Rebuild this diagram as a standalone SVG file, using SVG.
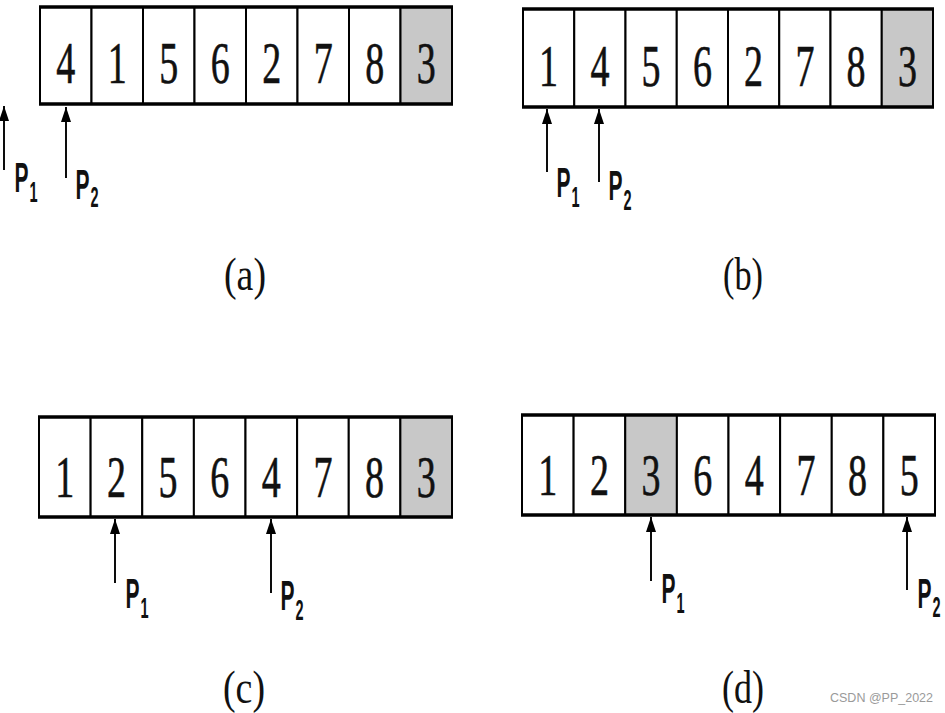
<svg xmlns="http://www.w3.org/2000/svg" width="945" height="713" viewBox="0 0 945 713">
<style>
.cell{fill:#fff;stroke:#000;stroke-width:2}
.grey{fill:#c8c8c8}
.edge{stroke:#000;stroke-width:3.5}
.num{font-family:"Liberation Serif",serif;font-size:60px;text-anchor:middle;fill:#111;stroke:#111;stroke-width:0.6}
.p{font-family:"Liberation Sans",sans-serif;font-size:42px;font-weight:bold;fill:#111}
.sub{font-size:29px}
.cap{font-family:"Liberation Serif",serif;font-size:46px;text-anchor:middle;fill:#111}
.arrow{stroke:#000;stroke-width:1.9;fill:none;marker-end:url(#ah)}
.wm{font-family:"Liberation Sans",Arial,sans-serif;font-size:12.5px;fill:#9a9a9a}
</style>
<defs>
<marker id="ah" markerUnits="userSpaceOnUse" markerWidth="16" markerHeight="11" refX="15" refY="5" orient="auto">
<path d="M0,0 L15,5 L0,10 Z" fill="#000"/>
</marker>
</defs>
<rect width="945" height="713" fill="#fff"/>

<!-- (a) -->
<g id="array-a">
<g id="a1"><rect class="cell" x="40" y="7" width="51.5" height="97"/><text class="num" x="65.75" y="83" textLength="19" lengthAdjust="spacingAndGlyphs">4</text></g>
<g id="a2"><rect class="cell" x="91.5" y="7" width="51.5" height="97"/><text class="num" x="117.25" y="83" textLength="19" lengthAdjust="spacingAndGlyphs">1</text></g>
<g id="a3"><rect class="cell" x="143" y="7" width="51.5" height="97"/><text class="num" x="168.75" y="83" textLength="19" lengthAdjust="spacingAndGlyphs">5</text></g>
<g id="a4"><rect class="cell" x="194.5" y="7" width="51.5" height="97"/><text class="num" x="220.25" y="83" textLength="19" lengthAdjust="spacingAndGlyphs">6</text></g>
<g id="a5"><rect class="cell" x="246" y="7" width="51.5" height="97"/><text class="num" x="271.75" y="83" textLength="19" lengthAdjust="spacingAndGlyphs">2</text></g>
<g id="a6"><rect class="cell" x="297.5" y="7" width="51.5" height="97"/><text class="num" x="323.25" y="83" textLength="19" lengthAdjust="spacingAndGlyphs">7</text></g>
<g id="a7"><rect class="cell" x="349" y="7" width="51.5" height="97"/><text class="num" x="374.75" y="83" textLength="19" lengthAdjust="spacingAndGlyphs">8</text></g>
<g id="a8"><rect class="cell grey" x="400.5" y="7" width="51.5" height="97"/><text class="num" x="426.25" y="83" textLength="19" lengthAdjust="spacingAndGlyphs">3</text></g>
<line class="edge" x1="39" y1="7" x2="453" y2="7"/><line class="edge" x1="39" y1="104" x2="453" y2="104"/>
</g>

<!-- (b) -->
<g id="array-b">
<g id="b1"><rect class="cell" x="523" y="9" width="51.25" height="98"/><text class="num" x="548.6" y="86" textLength="19" lengthAdjust="spacingAndGlyphs">1</text></g>
<g id="b2"><rect class="cell" x="574.25" y="9" width="51.25" height="98"/><text class="num" x="599.9" y="86" textLength="19" lengthAdjust="spacingAndGlyphs">4</text></g>
<g id="b3"><rect class="cell" x="625.5" y="9" width="51.25" height="98"/><text class="num" x="651.1" y="86" textLength="19" lengthAdjust="spacingAndGlyphs">5</text></g>
<g id="b4"><rect class="cell" x="676.75" y="9" width="51.25" height="98"/><text class="num" x="702.4" y="86" textLength="19" lengthAdjust="spacingAndGlyphs">6</text></g>
<g id="b5"><rect class="cell" x="728" y="9" width="51.25" height="98"/><text class="num" x="753.6" y="86" textLength="19" lengthAdjust="spacingAndGlyphs">2</text></g>
<g id="b6"><rect class="cell" x="779.25" y="9" width="51.25" height="98"/><text class="num" x="804.9" y="86" textLength="19" lengthAdjust="spacingAndGlyphs">7</text></g>
<g id="b7"><rect class="cell" x="830.5" y="9" width="51.25" height="98"/><text class="num" x="856.1" y="86" textLength="19" lengthAdjust="spacingAndGlyphs">8</text></g>
<g id="b8"><rect class="cell grey" x="881.75" y="9" width="51.25" height="98"/><text class="num" x="907.4" y="86" textLength="19" lengthAdjust="spacingAndGlyphs">3</text></g>
<line class="edge" x1="522" y1="9" x2="934" y2="9"/><line class="edge" x1="522" y1="107" x2="934" y2="107"/>
</g>

<!-- (c) -->
<g id="array-c">
<g id="c1"><rect class="cell" x="39" y="417" width="51.625" height="100"/><text class="num" x="64.8" y="497" textLength="19" lengthAdjust="spacingAndGlyphs">1</text></g>
<g id="c2"><rect class="cell" x="90.625" y="417" width="51.625" height="100"/><text class="num" x="116.4" y="497" textLength="19" lengthAdjust="spacingAndGlyphs">2</text></g>
<g id="c3"><rect class="cell" x="142.25" y="417" width="51.625" height="100"/><text class="num" x="168.1" y="497" textLength="19" lengthAdjust="spacingAndGlyphs">5</text></g>
<g id="c4"><rect class="cell" x="193.875" y="417" width="51.625" height="100"/><text class="num" x="219.7" y="497" textLength="19" lengthAdjust="spacingAndGlyphs">6</text></g>
<g id="c5"><rect class="cell" x="245.5" y="417" width="51.625" height="100"/><text class="num" x="271.3" y="497" textLength="19" lengthAdjust="spacingAndGlyphs">4</text></g>
<g id="c6"><rect class="cell" x="297.125" y="417" width="51.625" height="100"/><text class="num" x="322.9" y="497" textLength="19" lengthAdjust="spacingAndGlyphs">7</text></g>
<g id="c7"><rect class="cell" x="348.75" y="417" width="51.625" height="100"/><text class="num" x="374.6" y="497" textLength="19" lengthAdjust="spacingAndGlyphs">8</text></g>
<g id="c8"><rect class="cell grey" x="400.375" y="417" width="51.625" height="100"/><text class="num" x="426.2" y="497" textLength="19" lengthAdjust="spacingAndGlyphs">3</text></g>
<line class="edge" x1="38" y1="417" x2="453" y2="417"/><line class="edge" x1="38" y1="517" x2="453" y2="517"/>
</g>

<!-- (d) -->
<g id="array-d">
<g id="d1"><rect class="cell" x="522" y="415" width="51.625" height="100"/><text class="num" x="547.8" y="495" textLength="19" lengthAdjust="spacingAndGlyphs">1</text></g>
<g id="d2"><rect class="cell" x="573.625" y="415" width="51.625" height="100"/><text class="num" x="599.4" y="495" textLength="19" lengthAdjust="spacingAndGlyphs">2</text></g>
<g id="d3"><rect class="cell grey" x="625.25" y="415" width="51.625" height="100"/><text class="num" x="651.1" y="495" textLength="19" lengthAdjust="spacingAndGlyphs">3</text></g>
<g id="d4"><rect class="cell" x="676.875" y="415" width="51.625" height="100"/><text class="num" x="702.7" y="495" textLength="19" lengthAdjust="spacingAndGlyphs">6</text></g>
<g id="d5"><rect class="cell" x="728.5" y="415" width="51.625" height="100"/><text class="num" x="754.3" y="495" textLength="19" lengthAdjust="spacingAndGlyphs">4</text></g>
<g id="d6"><rect class="cell" x="780.125" y="415" width="51.625" height="100"/><text class="num" x="805.9" y="495" textLength="19" lengthAdjust="spacingAndGlyphs">7</text></g>
<g id="d7"><rect class="cell" x="831.75" y="415" width="51.625" height="100"/><text class="num" x="857.6" y="495" textLength="19" lengthAdjust="spacingAndGlyphs">8</text></g>
<g id="d8"><rect class="cell" x="883.375" y="415" width="51.625" height="100"/><text class="num" x="909.2" y="495" textLength="19" lengthAdjust="spacingAndGlyphs">5</text></g>
<line class="edge" x1="521" y1="415" x2="936" y2="415"/><line class="edge" x1="521" y1="515" x2="936" y2="515"/>
</g>

<!-- pointer arrows -->
<g id="connectors">
<line class="arrow" x1="4" y1="170" x2="4" y2="106"/>
<line class="arrow" x1="66" y1="178" x2="66" y2="107"/>
<line class="arrow" x1="547" y1="172" x2="547" y2="109"/>
<line class="arrow" x1="599" y1="182" x2="599" y2="109"/>
<line class="arrow" x1="115" y1="583" x2="115" y2="519"/>
<line class="arrow" x1="271" y1="593" x2="271" y2="519"/>
<line class="arrow" x1="651" y1="581" x2="651" y2="517"/>
<line class="arrow" x1="907" y1="590" x2="907" y2="517"/>
</g>

<!-- pointer labels -->
<g id="labels-a">
<text class="p" transform="translate(14.5,192) scale(0.5,1)">P<tspan class="sub" dx="2" dy="10">1</tspan></text>
<text class="p" transform="translate(75.5,199) scale(0.5,1)">P<tspan class="sub" dx="2" dy="8">2</tspan></text>
</g>
<g id="labels-b">
<text class="p" transform="translate(556.5,197) scale(0.5,1)">P<tspan class="sub" dx="2" dy="10">1</tspan></text>
<text class="p" transform="translate(608.5,200) scale(0.5,1)">P<tspan class="sub" dx="2" dy="10">2</tspan></text>
</g>
<g id="labels-c">
<text class="p" transform="translate(125.5,608) scale(0.5,1)">P<tspan class="sub" dx="2" dy="10">1</tspan></text>
<text class="p" transform="translate(280.5,610) scale(0.5,1)">P<tspan class="sub" dx="2" dy="10">2</tspan></text>
</g>
<g id="labels-d">
<text class="p" transform="translate(661.5,603) scale(0.5,1)">P<tspan class="sub" dx="2" dy="10">1</tspan></text>
<text class="p" transform="translate(917.5,608) scale(0.5,1)">P<tspan class="sub" dx="2" dy="9">2</tspan></text>
</g>

<!-- captions -->
<g id="captions">
<text class="cap" x="245" y="290" textLength="42" lengthAdjust="spacingAndGlyphs">(a)</text>
<text class="cap" x="743" y="290" textLength="40" lengthAdjust="spacingAndGlyphs">(b)</text>
<text class="cap" x="244" y="703" textLength="42" lengthAdjust="spacingAndGlyphs">(c)</text>
<text class="cap" x="743" y="703" textLength="42" lengthAdjust="spacingAndGlyphs">(d)</text>
</g>

<text class="wm" x="830" y="702">CSDN @PP_2022</text>
</svg>
